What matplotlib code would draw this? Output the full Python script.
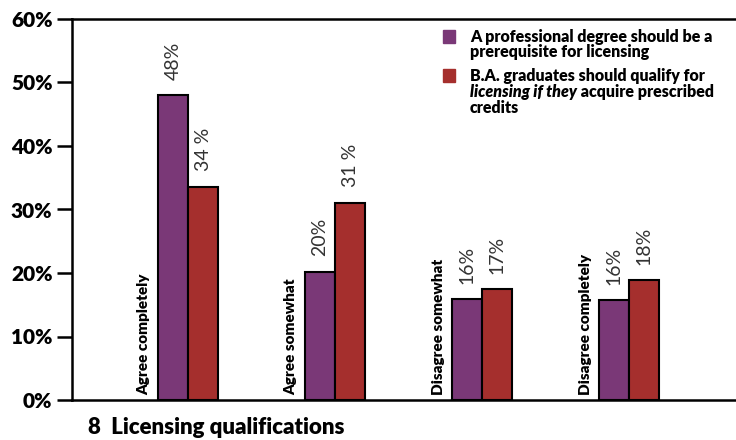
import matplotlib
matplotlib.use('Agg')
import matplotlib.pyplot as plt
import numpy as np

categories = ['Agree completely', 'Agree somewhat', 'Disagree somewhat', 'Disagree completely']
professional = [48.0, 20.2, 15.9, 15.7]
ba_credits = [33.6, 31.1, 17.5, 18.9]
professional_labels = ['48%', '20%', '16%', '16%']
ba_labels = ['34 %', '31 %', '17%', '18%']
legend_professional = ['A professional degree should be a', 'prerequisite for licensing']
yticks = [0, 10, 20, 30, 40, 50, 60]
title = '8  Licensing qualifications'

purple = '#7a3877'
red = '#a52f2d'
plt.rcParams['font.family'] = ['Lato', 'DejaVu Sans']

fig = plt.figure(figsize=(7.36, 4.4), dpi=100)
ax = fig.add_axes([72 / 736, 40 / 440, 664 / 736, 381 / 440])

x = np.arange(len(categories))
w = 0.204
b1 = ax.bar(x - w / 2, professional, w, color=purple, edgecolor='black', linewidth=1.5)
b2 = ax.bar(x + w / 2, ba_credits, w, color=red, edgecolor='black', linewidth=1.5)

for i, cat in enumerate(categories):
    ax.text(x[i] - 0.30, 0.8, cat, rotation=90, ha='center', va='bottom',
            fontsize=11, fontweight='heavy')

for bars, labels in ((b1, professional_labels), (b2, ba_labels)):
    for rect, lab in zip(bars, labels):
        ax.annotate(lab, (rect.get_x() + rect.get_width() / 2, rect.get_height()),
                    xytext=(0, 11), textcoords='offset points', rotation=90,
                    ha='center', va='bottom', fontsize=14, fontweight='normal',
                    color='#333333')

ax.set_xlim(-0.79, -0.79 + 664 / 147)
ax.set_ylim(0, 60)
ax.set_yticks(yticks)
ax.set_yticklabels([f'{t}%' for t in yticks], fontsize=15, fontweight='heavy')
ax.set_xticks([])
ax.tick_params(axis='y', direction='out', length=11, width=1.8, pad=3)
ax.spines['right'].set_visible(False)
for s in ('left', 'top', 'bottom'):
    ax.spines[s].set_linewidth(1.8)

# legend drawn by hand so part of the second entry can be italic
fig.patches.append(plt.Rectangle((443 / 736, 1 - 43 / 440), 12 / 736, 13 / 440,
                                 transform=fig.transFigure, color=purple))
fig.patches.append(plt.Rectangle((443 / 736, 1 - 82 / 440), 12 / 736, 13 / 440,
                                 transform=fig.transFigure, color=red))
lx = 470 / 736
fs = 11.5
fig.text(lx, 1 - 37 / 440, legend_professional[0], fontsize=fs, fontweight='heavy', va='center')
fig.text(lx, 1 - 52 / 440, legend_professional[1], fontsize=fs, fontweight='heavy', va='center')
fig.text(lx, 1 - 76 / 440, 'B.A. graduates should qualify for', fontsize=fs, fontweight='heavy', va='center')
it = fig.text(lx, 1 - 92 / 440, 'licensing if they', fontsize=fs, fontweight='heavy',
              style='italic', va='center')
ax.annotate(' acquire prescribed', xy=(1, 0.5), xycoords=it, va='center', ha='left',
            fontsize=fs, fontweight='heavy', annotation_clip=False)
fig.text(lx, 1 - 108 / 440, 'credits', fontsize=fs, fontweight='heavy', va='center')

fig.text(88 / 736, 1 - 427 / 440, title, fontsize=16, fontweight='heavy', va='center')

fig.savefig('out.png', dpi=100, facecolor='white')
